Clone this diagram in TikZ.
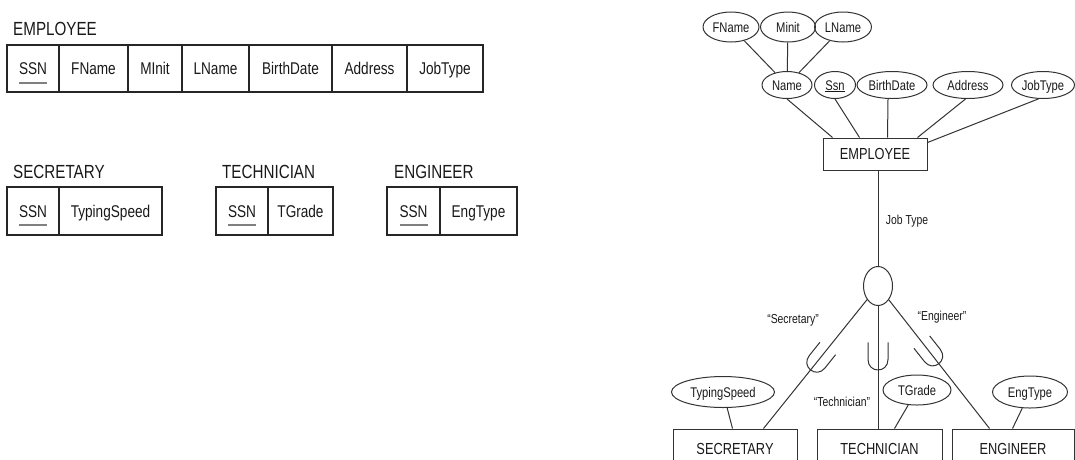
\documentclass[tikz,border=0pt]{standalone}
\usepackage{fontspec}
\setmainfont{Liberation Sans}[FakeStretch=0.8]
\usetikzlibrary{shapes.geometric,calc}

\tikzset{
  cell/.style={draw=black!85, line width=1.2pt, inner sep=0pt, text=black!90,
    text height=12.2pt, text depth=0pt, font=\fontsize{17}{19}\selectfont},
  title/.style={anchor=base west, inner sep=0pt, text=black!90,
    font=\fontsize{19}{21}\selectfont},
  keyline/.style={draw=black!50, line width=2pt},
  attr/.style={ellipse, draw=black!80, line width=1pt, inner sep=0pt, text=black!90,
    text height=10pt, text depth=0pt, font=\fontsize{14}{16}\selectfont},
  entity/.style={rectangle, draw=black!80, line width=1pt, inner sep=0pt, text=black!90,
    text height=11.5pt, text depth=0pt, font=\fontsize{16}{18}\selectfont},
  lbl/.style={inner sep=0pt, text=black!90, font=\fontsize{13}{15}\selectfont},
  link/.style={draw=black!80, line width=1pt},
  subsetmark/.pic={\draw[link] (-10,-15) -- (-10,2) .. controls (-10,16) and (10,16) .. (10,2) -- (10,-15);}
}

\begin{document}
\begin{tikzpicture}[x=1pt,y=-1pt]
	\useasboundingbox (0,0) rectangle (1075,459);
	\clip (0,0) rectangle (1075,459);
	
	% relation EMPLOYEE
	\node[title] (t-emp) at (13,35) {EMPLOYEE};
	\foreach \a/\b/\t [count=\i] in {7/59/SSN,59/128/FName,128/182/MInit,182/249/LName,249/332/BirthDate,332/407/Address,407/483/JobType}
		\node[cell, minimum width={\b-\a}, minimum height=47] (emp\i) at ({(\a+\b)/2},68.5) {\t};
	\draw[keyline] ($(emp1.center)+(-14,14)$) -- ++(28,0);
	
	% relations SECRETARY, TECHNICIAN, ENGINEER
	\node[title] (t-sec) at (13,178) {SECRETARY};
	\node[cell, minimum width=52, minimum height=48] (sec1) at (33,211) {SSN};
	\node[cell, minimum width=103, minimum height=48] (sec2) at (110.5,211) {TypingSpeed};
	\node[title] (t-tech) at (222,178) {TECHNICIAN};
	\node[cell, minimum width=52, minimum height=48] (tech1) at (242,211) {SSN};
	\node[cell, minimum width=65, minimum height=48] (tech2) at (300.5,211) {TGrade};
	\node[title] (t-eng) at (394,178) {ENGINEER};
	\node[cell, minimum width=53, minimum height=48] (eng1) at (413.5,211) {SSN};
	\node[cell, minimum width=77, minimum height=48] (eng2) at (478.5,211) {EngType};
	\foreach \n in {sec1,tech1,eng1}
		\draw[keyline] ($(\n.center)+(-14,14)$) -- ++(28,0);
	
	% EER diagram: attributes of EMPLOYEE
	\node[attr, minimum width=56, minimum height=30] (fname) at (731,27) {FName};
	\node[attr, minimum width=55, minimum height=30] (minit) at (788,27) {Minit};
	\node[attr, minimum width=57, minimum height=30] (lname) at (843,27) {LName};
	\node[attr, minimum width=50, minimum height=27] (name) at (787,85) {Name};
	\node[attr, minimum width=41, minimum height=27] (ssn) at (835,85) {\underline{Ssn}};
	\node[attr, minimum width=70, minimum height=27] (birth) at (892,85) {BirthDate};
	\node[attr, minimum width=70, minimum height=27] (addr) at (968,85) {Address};
	\node[attr, minimum width=63, minimum height=27] (jobtype) at (1043,85) {JobType};
	\node[entity, minimum width=104, minimum height=32] (emp) at (875,154) {EMPLOYEE};
	
	\draw[link] (fname) -- (name);
	\draw[link] (minit) -- (name);
	\draw[link] (lname) -- (name);
	\draw[link] (name.south) -- ([xshift=10pt]emp.north west);
	\draw[link] (ssn.south) -- ([xshift=37pt]emp.north west);
	\draw[link] ([xshift=-4pt]birth.south) -- ([xshift=65pt]emp.north west);
	\draw[link] (addr.260) -- ([xshift=-10pt]emp.north east);
	\draw[link] (jobtype.252) -- ([yshift=-5pt]emp.north east);
	
	% specialization circle
	\node[ellipse, draw=black!80, line width=1pt, minimum width=29, minimum height=39, inner sep=0pt] (sub) at (878,286) {};
	\draw[link] ([xshift=3pt]emp.south) -- (sub.north);
	\node[lbl] (jt) at (907,221) {Job Type};
	
	% subclasses
	\node[entity, minimum width=124, minimum height=40] (sec) at (735,449) {SECRETARY};
	\node[entity, minimum width=125, minimum height=40] (tech) at (879.5,449) {TECHNICIAN};
	\node[entity, minimum width=122, minimum height=40] (eng) at (1013,449) {ENGINEER};
	
	\draw[link] (sub) -- ([xshift=-34pt]sec.north east) coordinate[pos=.47] (m-sec);
	\draw[link] (sub) -- (tech.north -| sub) coordinate[pos=.42] (m-tech);
	\draw[link] (sub) -- ([xshift=38pt]eng.north west) coordinate[pos=.42] (m-eng);
	\pic[rotate=-38.6] at (m-sec) {subsetmark};
	\pic at (m-tech) {subsetmark};
	\pic[rotate=38.3] at (m-eng) {subsetmark};
	
	\node[lbl] (l-sec) at (793,320) {“Secretary”};
	\node[lbl] (l-tech) at (842,402) {“Technician”};
	\node[lbl] (l-eng) at (942,317) {“Engineer”};
	
	% local attributes
	\node[attr, minimum width=103, minimum height=31] (typing) at (723,392) {TypingSpeed};
	\node[attr, minimum width=68, minimum height=30] (tgrade) at (917,390) {TGrade};
	\node[attr, minimum width=75, minimum height=32] (engtype) at (1030,392) {EngType};
	\draw[link] (typing) -- ([xshift=60pt]sec.north west);
	\draw[link] (tgrade) -- ([xshift=78pt]tech.north west);
	\draw[link] (engtype) -- ([xshift=61pt]eng.north west);
\end{tikzpicture}
\end{document}
